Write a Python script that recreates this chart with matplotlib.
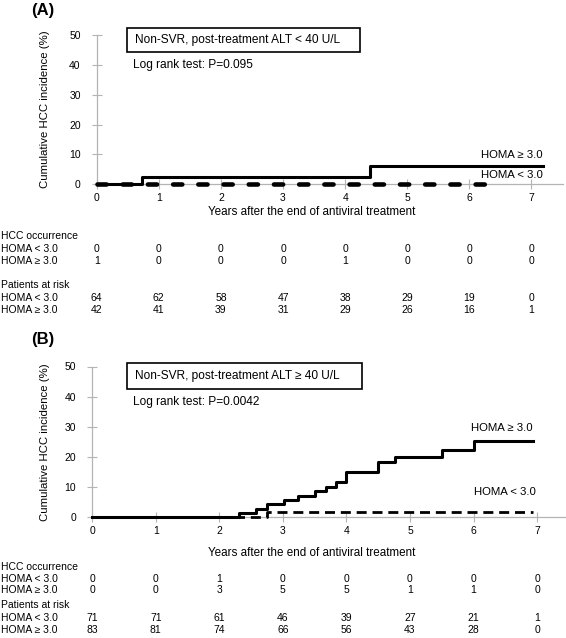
import matplotlib
matplotlib.use("Agg")
import matplotlib.pyplot as plt
import matplotlib.transforms as mtransforms
from matplotlib.patches import Rectangle

plt.rcParams['font.family'] = ['Liberation Sans', 'DejaVu Sans']

W, H = 566, 638

# ---- data ----
years = [0, 1, 2, 3, 4, 5, 6, 7]

# panel A: non-SVR, ALT < 40
a_hi_t = [0, 0.73, 4.40, 7.18]
a_hi_y = [0, 2.5, 6.1, 6.1]
a_lo_t = [0, 6.5]
a_lo_y = [0, 0]
a_occ_lo = [0, 0, 0, 0, 0, 0, 0, 0]
a_occ_hi = [1, 0, 0, 0, 1, 0, 0, 0]
a_risk_lo = [64, 62, 58, 47, 38, 29, 19, 0]
a_risk_hi = [42, 41, 39, 31, 29, 26, 16, 1]

# panel B: non-SVR, ALT >= 40
b_hi_t = [0, 2.31, 2.58, 2.75, 3.01, 3.24, 3.51, 3.68, 3.84, 4.00, 4.50, 4.77, 5.51, 6.01, 6.94]
b_hi_y = [0, 1.2, 2.8, 4.2, 5.6, 7.0, 8.6, 10.1, 11.7, 15.0, 18.2, 20.0, 22.4, 25.1, 25.1]
b_lo_t = [0, 2.75, 6.94]
b_lo_y = [0, 1.8, 1.8]
b_occ_lo = [0, 0, 1, 0, 0, 0, 0, 0]
b_occ_hi = [0, 0, 3, 5, 5, 1, 1, 0]
b_risk_lo = [71, 71, 61, 46, 39, 27, 21, 1]
b_risk_hi = [83, 81, 74, 66, 56, 43, 28, 0]

fig = plt.figure(figsize=(W / 100, H / 100), dpi=100)


def fx(px):
    return px / W


def fy(py):
    return 1 - py / H


def panel(tag, tag_y, x0, x1, y0, y50, xmax, hi, lo, lo_style, title, pval,
          box, lab_hi, lab_lo, xlab_y, tab_y, occ, risk):
    ax = fig.add_axes([fx(x0), fy(y0), fx(x1) - fx(x0), (y0 - y50) / H])
    ax.set_xlim(0, xmax)
    ax.set_ylim(0, 50)
    for s in ['top', 'right']:
        ax.spines[s].set_visible(False)
    for s in ['left', 'bottom']:
        ax.spines[s].set_color('#b4b4b4')
        ax.spines[s].set_linewidth(0.9)
        ax.spines[s].set_zorder(0)
    ax.set_xticks(years)
    ax.set_yticks([0, 10, 20, 30, 40, 50])
    ax.tick_params(axis='both', direction='inout', length=7, width=0.8,
                   color='#b4b4b4', labelsize=7.5)
    ax.tick_params(axis='y', pad=8)
    ax.tick_params(axis='x', pad=3)

    ax.step(hi[0], hi[1], where='post', color='black', lw=2.2,
            clip_on=False, zorder=3)
    ax.step(lo[0], lo[1], where='post', color='black', clip_on=False,
            zorder=2, **lo_style)

    fig.text(fx(31), fy(tag_y), tag, fontsize=12, fontweight='bold',
             va='center', ha='left')
    fig.text(fx(45), fy((y0 + y50) / 2), 'Cumulative HCC incidence (%)',
             rotation=90, fontsize=8.2, ha='center', va='center')
    fig.text(fx(312), fy(xlab_y), 'Years after the end of antiviral treatment',
             fontsize=8.4, ha='center', va='center')

    bx0, by0, bx1, by1 = box
    fig.add_artist(Rectangle((fx(bx0), fy(by1)), fx(bx1) - fx(bx0),
                             (by1 - by0) / H, transform=fig.transFigure,
                             fill=False, lw=1.2, ec='black'))
    fig.text(fx(bx0 + 8), fy((by0 + by1) / 2), title, fontsize=8.6,
             va='center', ha='left')
    fig.text(fx(bx0 + 6), fy(by1 + 13), pval, fontsize=8.6,
             va='center', ha='left')

    fig.text(fx(lab_hi[0]), fy(lab_hi[1]), 'HOMA \u2265 3.0', fontsize=8.2,
             ha='center', va='center')
    fig.text(fx(lab_lo[0]), fy(lab_lo[1]), 'HOMA < 3.0', fontsize=8.2,
             ha='center', va='center')

    # tables below, columns follow the x axis scale
    tr = mtransforms.blended_transform_factory(ax.transData, fig.transFigure)
    rows = [('HCC occurrence', None),
            ('HOMA < 3.0', occ[0]),
            ('HOMA \u2265 3.0', occ[1]),
            ('Patients at risk', None),
            ('HOMA < 3.0', risk[0]),
            ('HOMA \u2265 3.0', risk[1])]
    for (label, vals), ry in zip(rows, tab_y):
        fig.text(fx(1), fy(ry), label, fontsize=7.5, ha='left', va='center')
        if vals is not None:
            for yr, v in zip(years, vals):
                fig.text(yr, fy(ry), str(v), fontsize=7.5, ha='center',
                         va='center', transform=tr)
    return ax


panel('(A)', 10, 96.7, 562.5, 184.3, 35.0, 7.5,
      (a_hi_t, a_hi_y), (a_lo_t, a_lo_y),
      dict(lw=3.3, linestyle=(0, (2.0, 3.5)), dash_capstyle='round'),
      'Non-SVR, post-treatment ALT < 40 U/L', 'Log rank test: P=0.095',
      (126.7, 28.3, 360, 52.3), (512, 155), (512, 174.5), 212,
      [236, 249, 261, 285, 298, 310],
      (a_occ_lo, a_occ_hi), (a_risk_lo, a_risk_hi))

panel('(B)', 339, 92.3, 565, 517, 366.5, 7.44,
      (b_hi_t, b_hi_y), (b_lo_t, b_lo_y),
      dict(lw=2.0, linestyle=(0, (3.6, 2.1))),
      'Non-SVR, post-treatment ALT \u2265 40 U/L', 'Log rank test: P=0.0042',
      (126.7, 363, 362.3, 388.5), (502, 428), (505, 492), 553,
      [567, 578.5, 590, 605, 618, 630],
      (b_occ_lo, b_occ_hi), (b_risk_lo, b_risk_hi))

fig.savefig('out.png', dpi=100)
